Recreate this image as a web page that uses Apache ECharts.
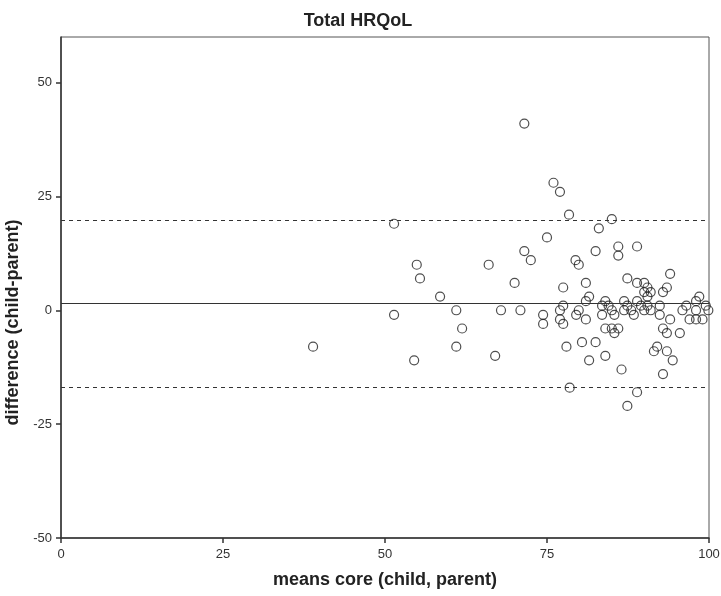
<!DOCTYPE html>
<html>
<head>
<meta charset="utf-8">
<script src="https://cdn.jsdelivr.net/npm/echarts@6/dist/echarts.min.js"></script>
<style>
  html, body { margin: 0; padding: 0; background: #fff; }
  #chart { width: 721px; height: 596px; }
</style>
</head>
<body>
<div id="chart"></div>
<script>
// Bland-Altman plot: mean of child and parent core scores vs. their difference
const meanScore = [
  38.9, 51.4, 51.4, 54.9, 55.4, 54.5, 58.5, 61.0, 61.9, 61.0,
  66.0, 67.9, 67.0, 70.0, 70.9, 71.5, 76.0, 77.0, 78.4, 85.0,
  83.0, 75.0, 71.5, 72.5, 86.0, 88.9, 82.5, 86.0, 79.4, 79.9,
  94.0, 87.4, 77.5, 81.0, 88.9, 90.0, 90.5, 91.0, 90.0, 90.5,
  92.9, 93.5, 81.5, 81.0, 84.0, 86.9, 88.9, 98.5, 98.0, 77.5,
  83.5, 84.5, 87.4, 89.5, 90.5, 92.4, 96.5, 99.5, 77.0, 79.9,
  85.0, 86.9, 88.0, 90.0, 91.0, 95.9, 98.0, 99.9, 74.4, 77.0,
  79.5, 81.0, 83.5, 85.4, 88.4, 92.4, 94.0, 97.0, 98.0, 99.0,
  74.4, 77.5, 84.0, 85.0, 86.0, 85.4, 92.9, 93.5, 95.5, 78.0,
  80.4, 82.5, 92.0, 91.5, 93.5, 94.4, 81.5, 84.0, 86.5, 92.9,
  78.5, 88.9, 87.4
];
const difference = [
  -8, 19, -1, 10, 7, -11, 3, 0, -4, -8,
  10, 0, -10, 6, 0, 41, 28, 26, 21, 20,
  18, 16, 13, 11, 14, 14, 13, 12, 11, 10,
  8, 7, 5, 6, 6, 6, 5, 4, 4, 3,
  4, 5, 3, 2, 2, 2, 2, 3, 2, 1,
  1, 1, 1, 1, 1, 1, 1, 1, 0, 0,
  0, 0, 0, 0, 0, 0, 0, 0, -1, -2,
  -1, -2, -1, -1, -1, -1, -2, -2, -2, -2,
  -3, -3, -4, -4, -4, -5, -4, -5, -5, -8,
  -7, -7, -8, -9, -9, -11, -11, -10, -13, -14,
  -17, -18, -21
];

// Mean difference and limits of agreement
const meanDiff = 1.5;
const upperLimit = 19.8;
const lowerLimit = -16.9;

const xTicks = [0, 25, 50, 75, 100];
const yTicks = [-50, -25, 0, 25, 50];

const points = meanScore.map((m, i) => [m, difference[i]]);

const font = 'Liberation Sans, Arial, Helvetica, sans-serif';
const chart = echarts.init(document.getElementById('chart'), null, { renderer: 'canvas' });

chart.setOption({
  backgroundColor: '#ffffff',
  animation: false,
  title: {
    text: 'Total HRQoL',
    left: 353,
    textAlign: 'center',
    top: 7,
    textStyle: { fontFamily: font, fontSize: 18, fontWeight: 'bold', color: '#222' }
  },
  grid: {
    left: 61, right: 12, top: 37, bottom: 58,
    outerBoundsMode: 'none',
    containLabel: false,
    show: true,
    borderColor: '#555',
    borderWidth: 1,
    backgroundColor: 'transparent'
  },
  xAxis: {
    type: 'value',
    min: 0, max: 100, interval: 25,
    name: 'means core (child, parent)',
    nameLocation: 'middle',
    nameGap: 33,
    nameTextStyle: { fontFamily: font, fontSize: 18, fontWeight: 'bold', color: '#222' },
    axisLine: { show: true, onZero: false, lineStyle: { color: '#333', width: 1.5 } },
    axisTick: { show: true, length: 5, lineStyle: { color: '#333', width: 1.5 }, customValues: xTicks },
    axisLabel: { fontFamily: font, fontSize: 13, color: '#333', margin: 10, customValues: xTicks },
    splitLine: { show: false }
  },
  yAxis: {
    type: 'value',
    min: -50, max: 60, interval: 25,
    name: 'difference (child-parent)',
    nameLocation: 'middle',
    nameGap: 35,
    nameRotate: 90,
    nameTextStyle: {
      fontFamily: font, fontSize: 18, fontWeight: 'bold', color: '#222',
      padding: [0, 70, 0, 0]
    },
    axisLine: { show: true, onZero: false, lineStyle: { color: '#333', width: 1.5 } },
    axisTick: { show: true, length: 5, lineStyle: { color: '#333', width: 1.5 }, customValues: yTicks },
    axisLabel: { fontFamily: font, fontSize: 13, color: '#333', margin: 9, customValues: yTicks },
    splitLine: { show: false }
  },
  series: [{
    type: 'scatter',
    data: points,
    symbol: 'circle',
    symbolSize: 9,
    clip: false,
    itemStyle: { color: 'transparent', borderColor: '#222', borderWidth: 1.2 },
    emphasis: { disabled: true },
    markLine: {
      silent: true,
      symbol: ['none', 'none'],
      label: { show: false },
      data: [
        { yAxis: meanDiff, lineStyle: { type: 'solid', color: '#333', width: 1.2 } },
        { yAxis: upperLimit, lineStyle: { type: [4, 4], color: '#333', width: 1.2 } },
        { yAxis: lowerLimit, lineStyle: { type: [4, 4], color: '#333', width: 1.2 } }
      ]
    }
  }]
});
</script>
</body>
</html>
